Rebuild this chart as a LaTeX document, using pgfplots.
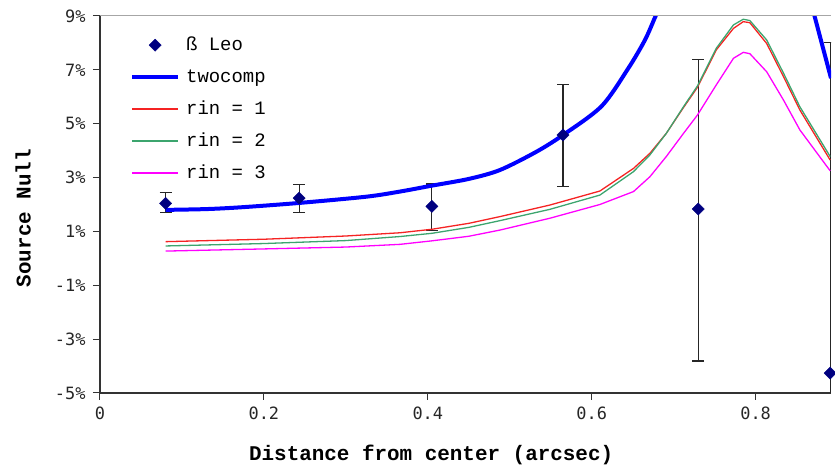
\documentclass[border=0pt]{standalone}
\usepackage{pgfplots}
\pgfplotsset{compat=1.18}
\usepackage{pgfplotstable}
\usepackage{fontspec}
\setmainfont{Liberation Mono}
\newfontfamily\tickfont{DejaVu Sans Mono}
\newfontfamily\monofont{Liberation Mono}
\definecolor{cblue}{RGB}{0,0,255}
\definecolor{cred}{RGB}{245,35,35}
\definecolor{cgreen}{RGB}{60,165,110}
\definecolor{cpink}{RGB}{255,0,255}
\definecolor{cnavy}{RGB}{0,0,128}
\pgfplotsset{
  lineleg/.style={legend image code/.code={\draw[#1] (0bp,0.5bp) -- (46bp,0.5bp);}},
  markleg/.style={legend image code/.code={\draw[##1] plot coordinates {(23bp,0bp)};}},
}

\pgfplotstableread{
x y ep em
0.080 2.04 0.41 0.33
0.243 2.24 0.50 0.53
0.405 1.93 0.83 0.89
0.565 4.58 1.89 1.92
0.730 1.83 5.57 5.64
0.891 -4.26 12.29 12.29
}\leo

\pgfplotstableread{
x y
0.080 1.80
0.130 1.83
0.174 1.90
0.244 2.06
0.325 2.29
0.366 2.48
0.405 2.70
0.450 2.95
0.488 3.28
0.532 3.95
0.565 4.58
0.612 5.65
0.6445 7.05
0.665 8.11
0.678 9.00
0.690 9.80
}\twoA

\pgfplotstableread{
x y
0.866 10.0
0.870 9.22
0.892 6.69
}\twoB

\pgfplotstableread{
x r g p
0.080 0.62 0.46 0.27
0.200 0.71 0.55 0.35
0.300 0.83 0.66 0.42
0.366 0.95 0.81 0.52
0.405 1.08 0.93 0.65
0.450 1.30 1.15 0.82
0.488 1.55 1.40 1.05
0.549 1.98 1.82 1.49
0.610 2.50 2.35 2.00
0.651 3.34 3.22 2.48
0.671 3.90 3.84 3.03
0.691 4.64 4.64 3.78
0.712 5.60 5.63 4.64
0.729 6.35 6.40 5.32
0.752 7.74 7.80 6.44
0.773 8.54 8.67 7.43
0.785 8.79 8.88 7.65
0.793 8.75 8.83 7.60
0.8135 7.98 8.11 6.93
0.834 6.75 6.88 5.88
0.854 5.51 5.63 4.77
0.891 3.65 3.78 3.25
}\rin

\begin{document}
\begin{tikzpicture}
\begin{axis}[
  scale only axis,
  width=731bp, height=377bp,
  xmin=0, xmax=0.892,
  ymin=-5, ymax=9,
  clip=true,
  axis x line*=bottom,
  axis y line*=left,
  axis line style={line width=1.1bp, black!80},
  tick align=outside,
  major tick length=7bp,
  tick style={line width=1bp, black!80},
  xtick={0,0.2,0.4,0.6,0.8},
  xticklabels={0,0.2,0.4,0.6,0.8},
  ytick={-5,-3,-1,1,3,5,7,9},
  yticklabels={-5\%,-3\%,-1\%,1\%,3\%,5\%,7\%,9\%},
  ticklabel style={font=\tickfont\fontsize{17}{17}\selectfont, text=black!85},
  xticklabel style={yshift=-3bp},
  yticklabel style={xshift=-4bp},
  xlabel={Distance from center (arcsec)},
  ylabel={Source Null},
  label style={font=\monofont\bfseries\fontsize{21}{21}\selectfont},
  xlabel style={at={(axis description cs:0.453,-0.1645)}, anchor=center},
  ylabel style={at={(axis description cs:-0.1053,0.464)}, anchor=center},
  legend style={at={(axis description cs:0.041,0.947)}, anchor=north west,
    draw=none, fill=none, inner sep=0pt,
    font=\monofont\fontsize{19}{19}\selectfont,
    nodes={inner sep=0pt, text height=14bp, text depth=4bp},
    row sep=14bp, column sep=6bp},
  legend cell align=left,
]
\addplot[only marks, mark=square*, mark options={rotate=45}, mark size=4.3bp, color=cnavy, markleg,
  error bars/.cd, y dir=both, y explicit,
  error bar style={line width=1.1bp, black!85},
  error mark options={rotate=90, mark size=6bp, line width=1.1bp, black!85}]
  table[x=x, y=y, y error plus=ep, y error minus=em] {\leo};
\addlegendentry{ß Leo}
\addplot[color=cblue, line width=4bp, smooth, lineleg={cblue, line width=4bp}] table[x=x,y=y] {\twoA};
\addlegendentry{twocomp}
\addplot[color=cred, line width=1.3bp, lineleg={cred, line width=1.8bp}] table[x=x,y=r] {\rin};
\addlegendentry{rin = 1}
\addplot[color=cgreen, line width=1.3bp, lineleg={cgreen, line width=1.8bp}] table[x=x,y=g] {\rin};
\addlegendentry{rin = 2}
\addplot[color=cpink, line width=1.3bp, lineleg={cpink, line width=1.8bp}] table[x=x,y=p] {\rin};
\addlegendentry{rin = 3}
\addplot[color=cblue, line width=4bp, forget plot] table[x=x,y=y] {\twoB};
\draw[gray!70, line width=1bp] (rel axis cs:0,1) -- (rel axis cs:1,1);
\coordinate (ll) at (rel axis cs:0,0);
\end{axis}
\pgfresetboundingbox
\path[use as bounding box] ([xshift=-100bp,yshift=-73bp]ll) rectangle ([xshift=735bp,yshift=393bp]ll);
\end{tikzpicture}
\end{document}
